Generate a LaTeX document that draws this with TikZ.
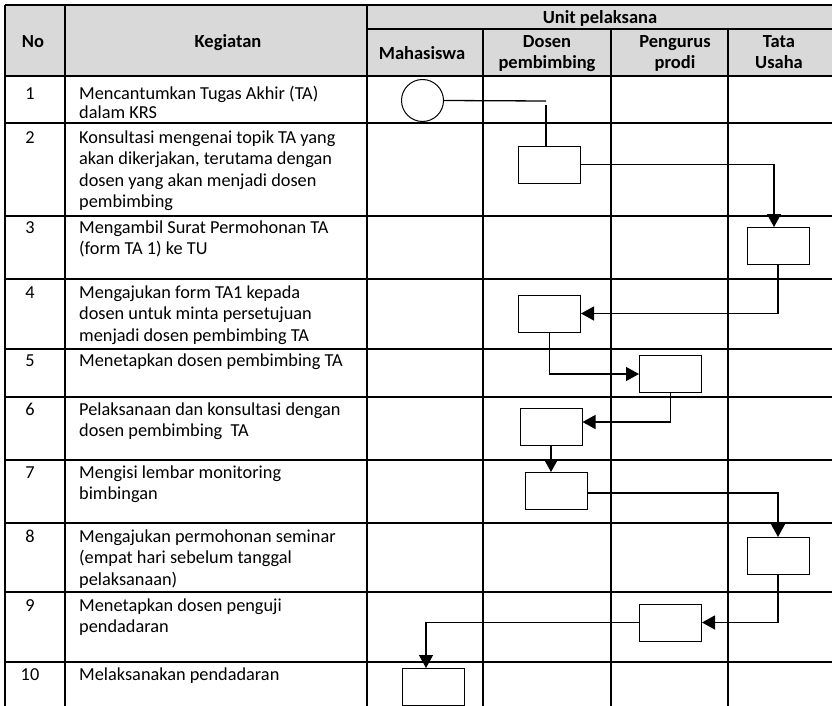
\documentclass[tikz,border=0pt]{standalone}
\usepackage{fontspec}
\setmainfont{Carlito}
\usetikzlibrary{arrows.meta}
\begin{document}
\begin{tikzpicture}[x=1pt,y=-1pt,
  grid/.style={line width=1.3pt},
  hdr/.style={font=\fontsize{18.5}{21}\selectfont\bfseries, anchor=base, align=center, inner sep=0pt},
  txt/.style={font=\fontsize{18.3}{21.5}\selectfont, anchor=base west, align=left, inner sep=0pt},
  num/.style={font=\fontsize{18.3}{21.5}\selectfont, anchor=base, inner sep=0pt},
  box/.style={draw, line width=1pt, minimum width=62pt, minimum height=37pt, inner sep=0pt},
  startc/.style={draw, circle, line width=1pt, minimum size=42pt, inner sep=0pt},
  conn/.style={line width=1.3pt},
  arr/.style={line width=1.3pt, -{Triangle[length=13pt,width=14pt]}}]
\clip (0,0) rectangle (832,706);
% header background
\fill[fill={rgb,255:red,217;green,217;blue,217}] (5,5) rectangle (840,76);
% horizontal grid lines
\draw[grid] (5,5) -- (840,5);
\draw[grid] (367,29) -- (840,29);
\foreach \y in {76,123,216,279,349,397,460,523,592,662}
  \draw[grid] (5,\y) -- (840,\y);
% vertical grid lines
\foreach \x in {5,65,367}
  \draw[grid] (\x,5) -- (\x,710);
\foreach \x in {483,611,728}
  \draw[grid] (\x,29) -- (\x,710);
% header texts (base anchor = last line baseline)
\node[hdr] (hno) at (33,48) {No};
\node[hdr] (hkeg) at (228,48) {Kegiatan};
\node[hdr] (hunit) at (600,24) {Unit pelaksana};
\node[hdr] (hmhs) at (422,60) {Mahasiswa};
\node[hdr] (hdos) at (547,69) {Dosen\\pembimbing};
\node[hdr] (hpen) at (675,69) {Pengurus\\prodi};
\node[hdr] (htu) at (779,69) {Tata\\Usaha};
% row numbers
\node[num] (n1) at (30,100) {1};
\node[num] (n2) at (30,143) {2};
\node[num] (n3) at (30,233) {3};
\node[num] (n4) at (30,298) {4};
\node[num] (n5) at (30,366) {5};
\node[num] (n6) at (30,415) {6};
\node[num] (n7) at (30,478) {7};
\node[num] (n8) at (30,542) {8};
\node[num] (n9) at (30,611) {9};
\node[num] (n10) at (30,680) {10};
% activity texts (base anchor = last line baseline)
\node[txt, font=\fontsize{18.3}{18.5}\selectfont] (t1) at (79,118.5) {Mencantumkan Tugas Akhir (TA)\\dalam KRS};
\node[txt] (t2) at (79,207.5) {Konsultasi mengenai topik TA yang\\akan dikerjakan, terutama dengan\\dosen yang akan menjadi dosen\\pembimbing};
\node[txt] (t3) at (79,254.5) {Mengambil Surat Permohonan TA\\(form TA 1) ke TU};
\node[txt] (t4) at (79,341) {Mengajukan form TA1 kepada\\dosen untuk minta persetujuan\\menjadi dosen pembimbing TA};
\node[txt] (t5) at (79,366) {Menetapkan dosen pembimbing TA};
\node[txt] (t6) at (79,436.5) {Pelaksanaan dan konsultasi dengan\\dosen pembimbing\ \ TA};
\node[txt] (t7) at (79,499.5) {Mengisi lembar monitoring\\bimbingan};
\node[txt] (t8) at (79,585) {Mengajukan permohonan seminar\\(empat hari sebelum tanggal\\pelaksanaan)};
\node[txt] (t9) at (79,632.5) {Menetapkan dosen penguji\\pendadaran};
\node[txt] (t10) at (79,680) {Melaksanakan pendadaran};
% flow shapes
\node[startc] (c1) at (422.5,100.5) {};
\node[box] (b2) at (549.5,164.5) {};
\node[box] (b3) at (778,246) {};
\node[box] (b4) at (549.5,313.5) {};
\node[box] (b5) at (670.5,374) {};
\node[box] (b6) at (551,427) {};
\node[box] (b7) at (556,491) {};
\node[box] (b8) at (778,556) {};
\node[box] (b9) at (670.5,622.5) {};
\node[box] (b10) at (433,687) {};
% connectors
\coordinate (k1) at (546,101);
\coordinate (k2) at (546,105);
\draw[conn] (c1.east) -- (k1);
\draw[conn] (k2) -- (k2 |- b2.north);
\draw[arr] (b2.east) -| ([xshift=-4pt]b3.north);
\draw[arr] (b3.south) |- (b4.east);
\draw[arr] (b4.south) |- (b5.west);
\draw[arr] (b5.south) |- ([yshift=5pt]b6.east);
\draw[arr] (b6.south) -- (b6.south |- b7.north);
\draw[arr] ([yshift=-2pt]b7.east) -| (b8.north);
\draw[arr] (b8.south) |- (b9.east);
\draw[arr] (b9.west) -| ([xshift=-7pt]b10.north);
\end{tikzpicture}
\end{document}
